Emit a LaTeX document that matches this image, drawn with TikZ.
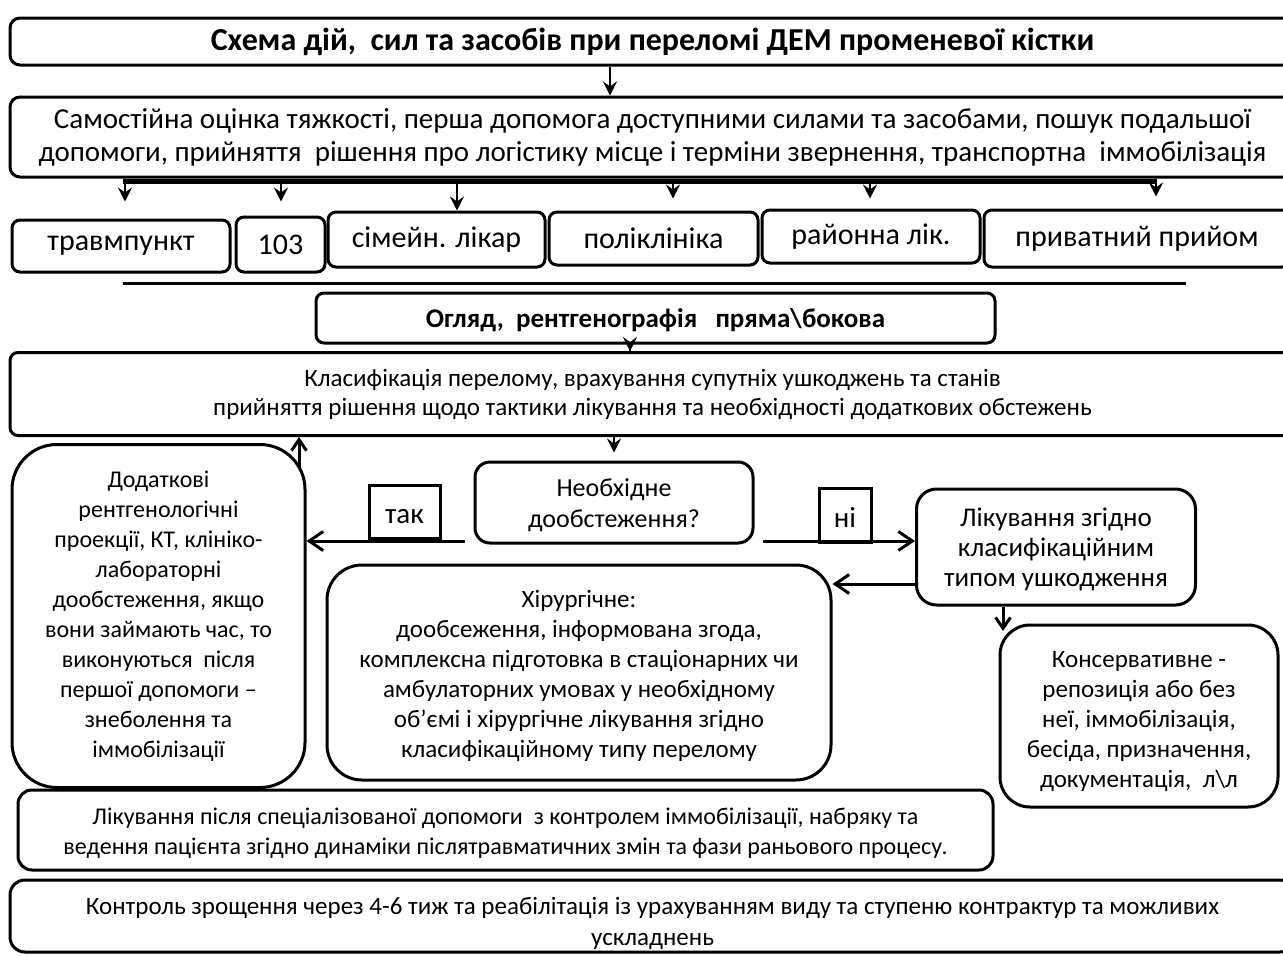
\documentclass[tikz,border=0pt]{standalone}
\usepackage{fontspec}
\setmainfont{Carlito}
\usetikzlibrary{arrows.meta}
\newcommand\myfs[2]{\fontsize{#1}{#2}\selectfont}
\begin{document}
\begin{tikzpicture}[x=1pt,y=-1pt,
 bx/.style={draw, line width=3pt, rounded corners=#1, align=center, inner sep=0pt, fill=white},
 bx/.default=8pt,
 darr/.style={line width=2.5pt, -{Stealth[length=14pt,width=14pt,inset=5pt]}},
 barr/.style={line width=3pt, -{Straight Barb[length=14pt,width=19pt]}},
 sbarr/.style={line width=3pt, -{Straight Barb[length=11pt,width=15pt]}},
 thick line/.style={line width=3pt},
]
\useasboundingbox (0,0) rectangle (1283,956);
\clip (0,0) rectangle (1283,956);

% top boxes
\node[bx=10pt, minimum width=1285pt, minimum height=47pt, font=\bfseries\myfs{32}{36}] (title) at (652.5,41.5)
 {Схема дій,~ сил та засобів при переломі ДЕМ променевої кістки};
\node[bx=10pt, minimum width=1285pt, minimum height=80pt, font=\myfs{29}{33}] (assess) at (652.5,137)
 {Самостійна оцінка тяжкості, перша допомога доступними силами та засобами, пошук подальшої\\
  допомоги, прийняття~ рішення про логістику місце і терміни звернення, транспортна~ іммобілізація};
\coordinate (c1) at (610,0);
\draw[darr] (title.south -| c1) -- (assess.north -| c1);

% row of places
\node[bx, minimum width=218pt, minimum height=52pt, font=\myfs{30}{34}] (travm) at (121,246) {травмпункт};
\node[bx, minimum width=89pt, minimum height=55pt, font=\myfs{30}{34}] (n103) at (280.5,244.5) {103};
\node[bx, minimum width=217pt, minimum height=55pt, font=\myfs{30}{34}] (simeyn) at (436.5,239.5) {сімейн. лікар};
\node[bx, minimum width=209pt, minimum height=53pt, font=\myfs{30}{34}] (polikl) at (653.5,238.5) {поліклініка};
\node[bx, minimum width=218pt, minimum height=53pt, font=\myfs{30}{34}] (rayon) at (871,236.5) {районна лік.};
\node[bx, minimum width=306pt, minimum height=57pt, font=\myfs{30}{34}] (pryv) at (1137,238.5) {приватний прийом};

\coordinate (barL) at (123,181);
\coordinate (barR) at (1157,181);
\draw[line width=5pt] (barL) -- (barR);
\coordinate (d1) at (125,182);
\coordinate (d2) at (281,182);
\coordinate (d3) at (457,182);
\coordinate (d4) at (673,182);
\coordinate (d5) at (870,182);
\coordinate (d6) at (1156,182);
\draw[darr, shorten >=17pt] (d1) -- (d1 |- travm.north);
\draw[darr, shorten >=14pt] (d2) -- (d2 |- n103.north);
\draw[darr] (d3) -- (d3 |- simeyn.north);
\draw[darr, shorten >=12pt] (d4) -- (d4 |- polikl.north);
\draw[darr, shorten >=10pt] (d5) -- (d5 |- rayon.north);
\draw[darr, shorten >=12pt] (d6) -- (d6 |- pryv.north);

\coordinate (hl1) at (123,283);
\coordinate (hl2) at (1186,283);
\draw[thick line] (hl1) -- (hl2);

% exam
\node[bx, minimum width=679pt, minimum height=50pt, font=\bfseries\myfs{27}{30}] (ogl) at (655.5,318)
 {\rule{0pt}{24pt}Огляд,~ рентгенографія~~ пряма\textbackslash бокова};
\node[bx, minimum width=1285pt, minimum height=83pt, font=\myfs{25}{29}] (class) at (652.5,394)
 {Класифікація перелому, врахування супутніх ушкоджень та станів\\
  прийняття рішення щодо тактики лікування та необхідності додаткових обстежень};
\coordinate (c2) at (630,0);
\draw[darr, shorten <=-8pt] (ogl.south -| c2) -- (class.north -| c2);

% decision
\node[bx=15pt, minimum width=278pt, minimum height=81pt, font=\myfs{26}{31}] (neob) at (614,502.5)
 {\rule{0pt}{23pt}Необхідне\\дообстеження?};
\coordinate (c3) at (614,0);
\draw[darr, shorten >=8pt] (class.south -| c3) -- (neob.north -| c3);

\node[bx=45pt, minimum width=293pt, minimum height=343pt, font=\myfs{24}{30}] (dod) at (158.5,616)
 {Додаткові\\рентгенологічні\\проекції, КТ, клініко-\\лабораторні\\дообстеження, якщо\\вони займають час, то\\виконуються~ після\\першої допомоги –\\знеболення та\\іммобілізації};

\node[bx=20pt, minimum width=279pt, minimum height=116pt, font=\myfs{27}{30}] (likz) at (1056,547)
 {\rule{0pt}{24pt}Лікування згідно\\класифікаційним\\типом ушкодження};

\node[bx=35pt, minimum width=504pt, minimum height=215pt, font=\myfs{25}{30}] (khir) at (579,672.5)
 {\rule{0pt}{24pt}Хірургічне:\\дообсеження, інформована згода,\\комплексна підготовка в стаціонарних чи\\амбулаторних умовах у необхідному\\об’ємі і хірургічне лікування згідно\\класифікаційному типу перелому};

\node[bx=30pt, minimum width=278pt, minimum height=182pt, font=\myfs{25}{30}] (kons) at (1139,716)
 {\rule{0pt}{28pt}Консервативне -\\репозиція або без\\неї, іммобілізація,\\бесіда, призначення,\\документація,~ л\textbackslash л};

% yes / no branches
\node[draw, line width=3pt, fill=white, minimum width=71pt, minimum height=53pt, inner sep=0pt, font=\myfs{29}{34}] (yes) at (404.5,511.5) {\rule{0pt}{24pt}так};
\node[draw, line width=3pt, fill=white, minimum width=52pt, minimum height=54pt, inner sep=0pt, font=\myfs{29}{34}] (no) at (845,515) {\rule{0pt}{24pt}ні};
\coordinate (yesS) at (465,541);
\draw[barr] (yesS) -- (yesS -| dod.east);
\coordinate (noS) at (763,541);
\draw[barr] (noS) -- (noS -| likz.west);
\coordinate (c4) at (0,584);
\draw[barr] (likz.west |- c4) -- (khir.east |- c4);
\coordinate (c5) at (1003,0);
\coordinate (konsTip) at (1003,631);
\draw[sbarr] (likz.south -| c5) -- (konsTip);
\coordinate (upS) at (299,467);
\draw[sbarr] (upS) -- (upS |- class.south);

% bottom
\node[bx=14pt, minimum width=975pt, minimum height=80pt, font=\myfs{24}{30}] (after) at (505.5,830)
 {\rule{0pt}{22pt}Лікування після спеціалізованої допомоги~ з контролем іммобілізації, набряку та\\
  ведення пацієнта згідно динаміки післятравматичних змін та фази раньового процесу.};
\node[bx=15pt, minimum width=1285pt, minimum height=72pt, font=\myfs{25}{31}] (ctrl) at (652.5,916)
 {\rule{0pt}{32pt}Контроль зрощення через 4-6 тиж та реабілітація із урахуванням виду та ступеню контрактур та можливих\\ускладнень};
\end{tikzpicture}
\end{document}
